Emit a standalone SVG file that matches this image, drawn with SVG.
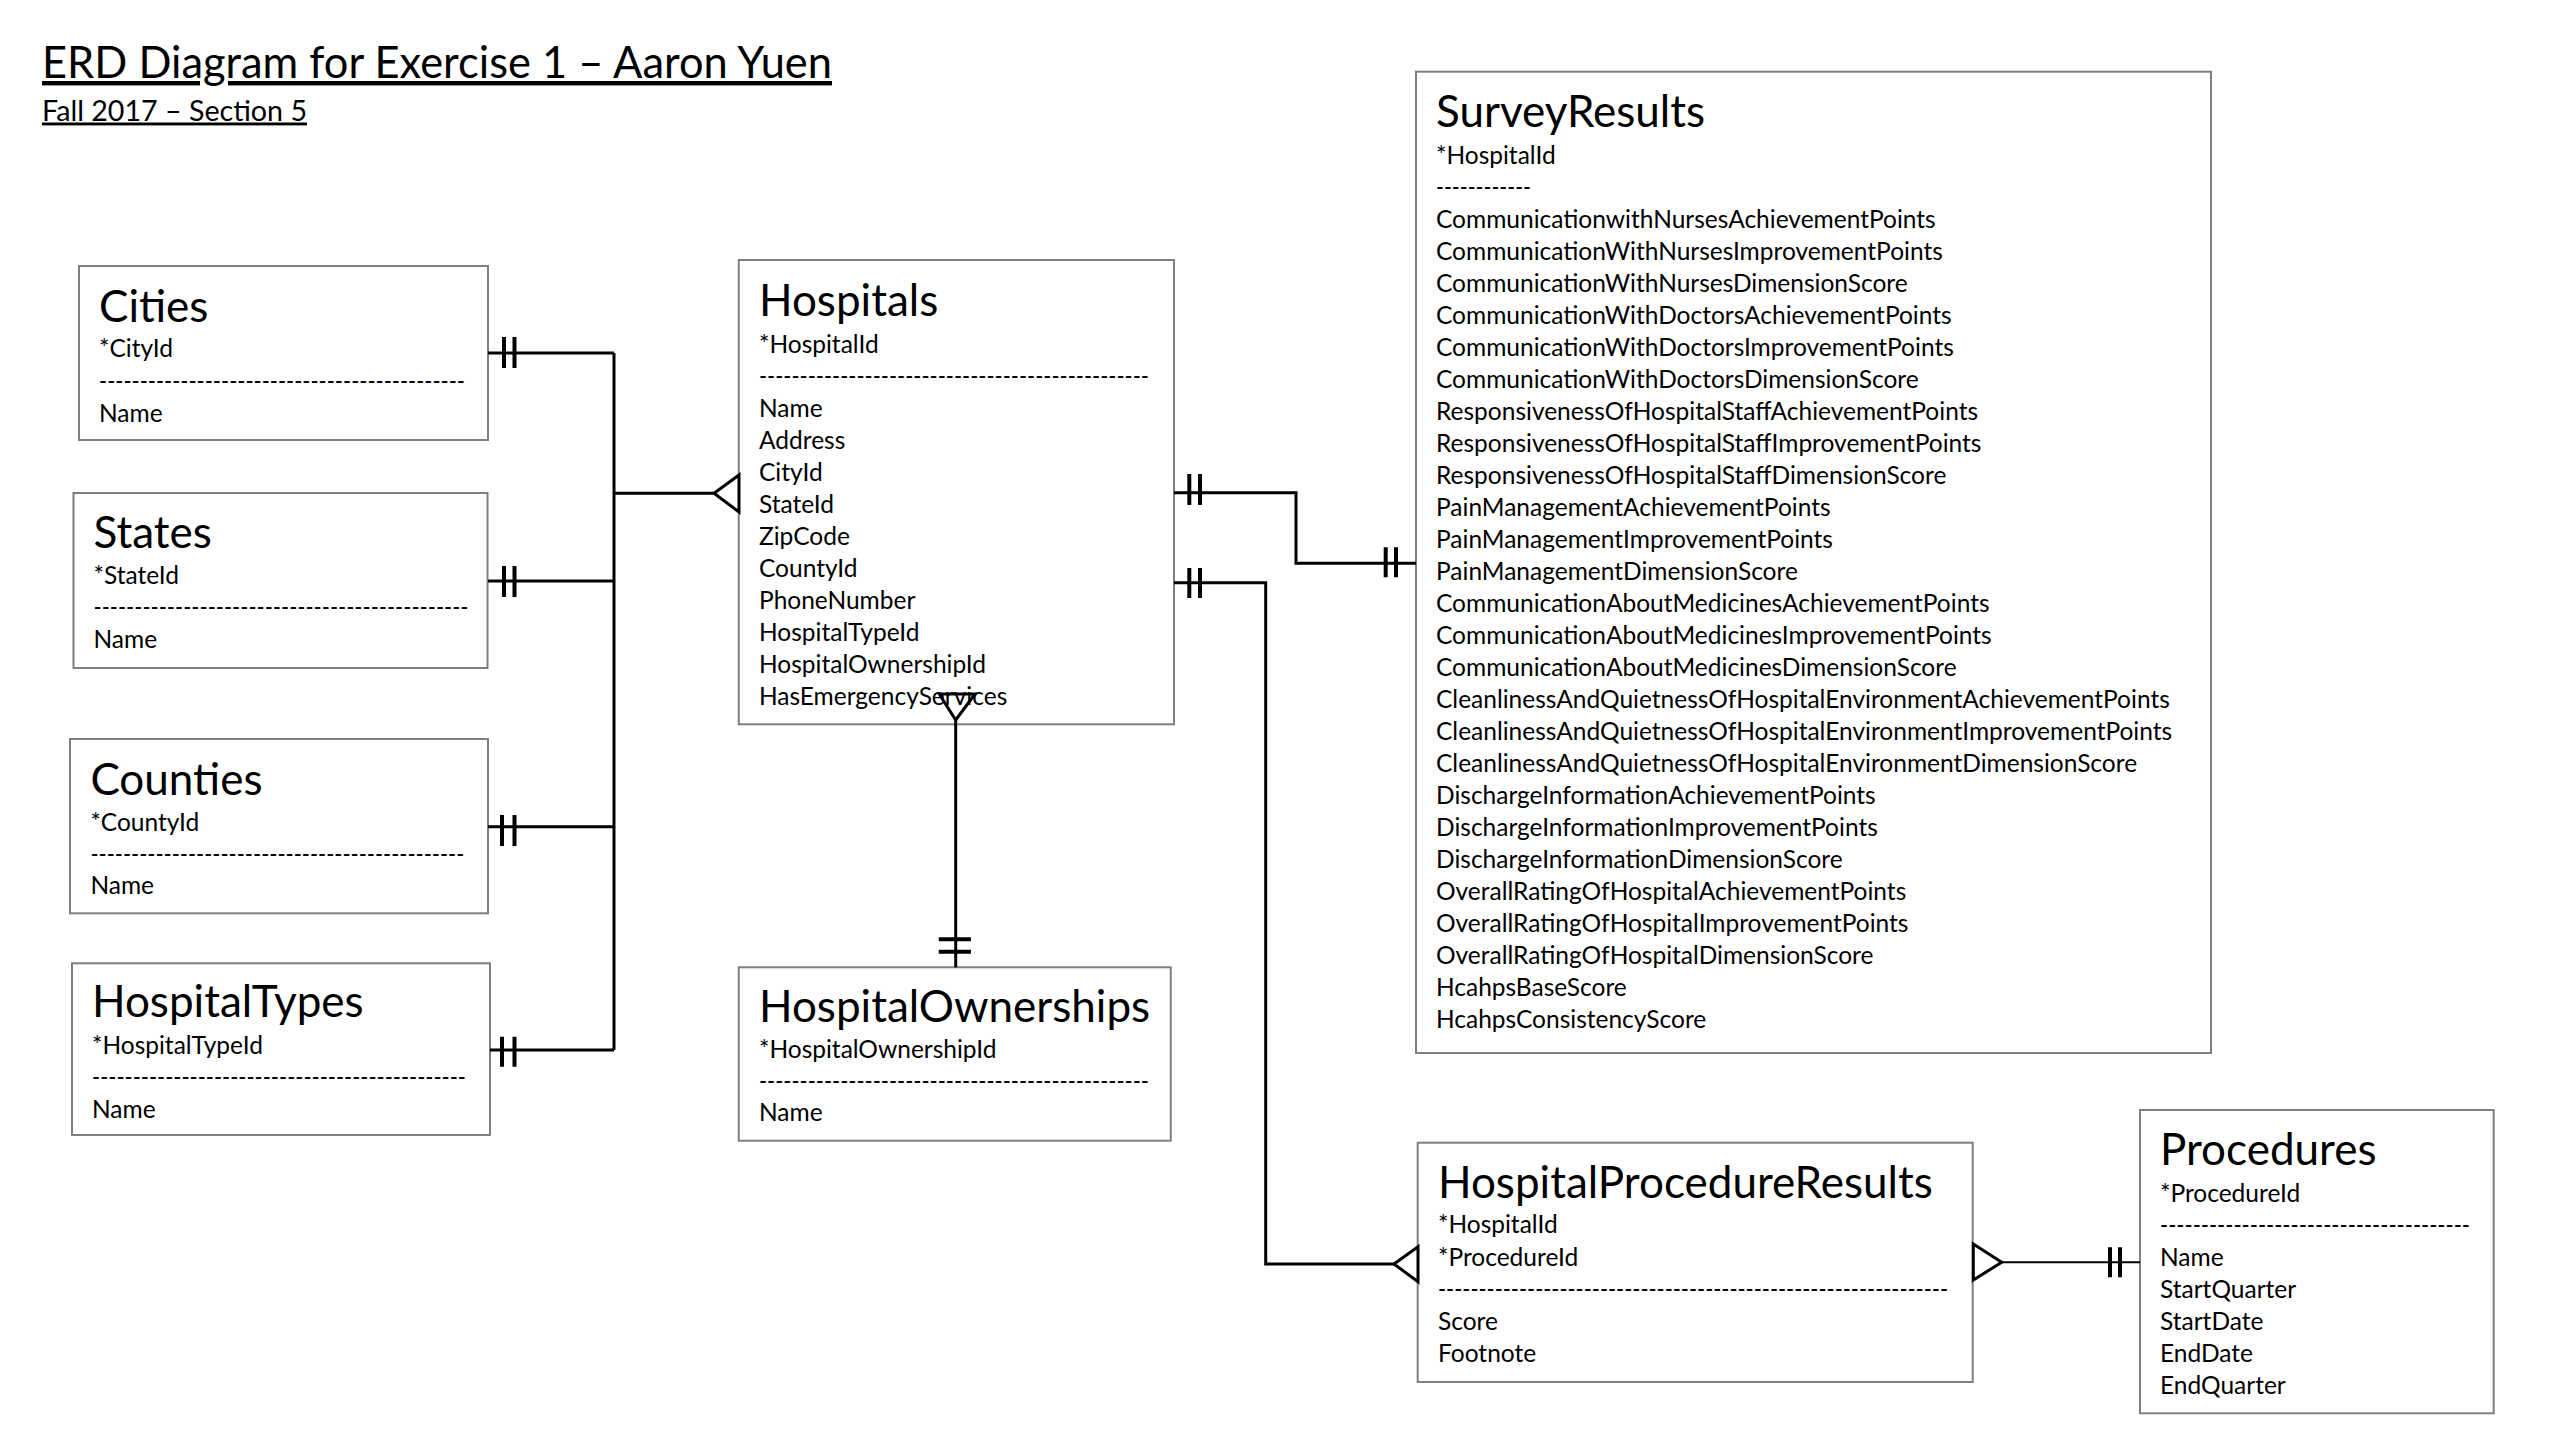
<svg xmlns="http://www.w3.org/2000/svg" width="2557" height="1437" viewBox="0 0 2557 1437">
<style>
.bg{fill:#ffffff}
.box{fill:#ffffff;stroke:#7f7f7f;stroke-width:2}
text{font-family:Lato,"Open Sans","Liberation Sans",sans-serif;fill:#000000}
.h{font-size:44px}
.b{font-size:24.5px}
.conn{stroke:#000000;stroke-width:3;fill:none}
.thin{stroke:#000000;stroke-width:2;fill:none}
.bar{stroke:#000000;stroke-width:4;fill:none}
.crow{stroke:#000000;stroke-width:3;fill:#ffffff;stroke-linejoin:miter}
.crowo{stroke:#000000;stroke-width:3;fill:none}
</style>
<rect class="bg" x="0" y="0" width="2557" height="1437"/>

<g id="heading">
<text x="42" y="78" font-size="44" text-decoration="underline" textLength="790" lengthAdjust="spacingAndGlyphs">ERD Diagram for Exercise 1 – Aaron Yuen</text>
<text x="42" y="120.5" font-size="29" text-decoration="underline" textLength="265" lengthAdjust="spacingAndGlyphs">Fall 2017 – Section 5</text>
</g>

<g id="cities">
<rect class="box" x="79" y="266" width="409" height="174"/>
<text class="h" x="99" y="322.2">Cities</text>
<text class="b" x="99" y="357.3">*CityId</text>
<text class="b" x="99" y="389.5" textLength="366" lengthAdjust="spacingAndGlyphs">---------------------------------------------</text>
<text class="b" x="99" y="421.7">Name</text>
</g>

<g id="states">
<rect class="box" x="73.5" y="493" width="414" height="175"/>
<text class="h" x="93.5" y="548.2">States</text>
<text class="b" x="93.5" y="584.3">*StateId</text>
<text class="b" x="93.5" y="616.3" textLength="375" lengthAdjust="spacingAndGlyphs">----------------------------------------------</text>
<text class="b" x="93.5" y="648.3">Name</text>
</g>

<g id="counties">
<rect class="box" x="70" y="739" width="418" height="174.3"/>
<text class="h" x="90.4" y="794.8">Counties</text>
<text class="b" x="90.4" y="830.7">*CountyId</text>
<text class="b" x="90.4" y="862.5" textLength="374" lengthAdjust="spacingAndGlyphs">----------------------------------------------</text>
<text class="b" x="90.4" y="894.3">Name</text>
</g>

<g id="hospitaltypes">
<rect class="box" x="72" y="963.3" width="418" height="171.7"/>
<text class="h" x="92" y="1016.5">HospitalTypes</text>
<text class="b" x="92" y="1054">*HospitalTypeId</text>
<text class="b" x="92" y="1086" textLength="374" lengthAdjust="spacingAndGlyphs">----------------------------------------------</text>
<text class="b" x="92" y="1118.3">Name</text>
</g>

<g id="hospitals">
<rect class="box" x="738.75" y="260" width="435.25" height="464.3"/>
<text class="h" x="759" y="315.5">Hospitals</text>
<text class="b" x="759" y="353.3">*HospitalId</text>
<text class="b" x="759" y="385" textLength="390" lengthAdjust="spacingAndGlyphs">------------------------------------------------</text>
<text class="b" x="759" y="417">Name</text>
<text class="b" x="759" y="449">Address</text>
<text class="b" x="759" y="481">CityId</text>
<text class="b" x="759" y="513">StateId</text>
<text class="b" x="759" y="545">ZipCode</text>
<text class="b" x="759" y="577">CountyId</text>
<text class="b" x="759" y="609">PhoneNumber</text>
<text class="b" x="759" y="641">HospitalTypeId</text>
<text class="b" x="759" y="673">HospitalOwnershipId</text>
<text class="b" x="759" y="705">HasEmergencyServices</text>
</g>

<g id="hospitalownerships">
<rect class="box" x="738.75" y="967.3" width="432" height="173.4"/>
<text class="h" x="759" y="1021.5">HospitalOwnerships</text>
<text class="b" x="759" y="1057.7">*HospitalOwnershipId</text>
<text class="b" x="759" y="1089.5" textLength="390" lengthAdjust="spacingAndGlyphs">------------------------------------------------</text>
<text class="b" x="759" y="1120.7">Name</text>
</g>

<g id="surveyresults">
<rect class="box" x="1416" y="71.7" width="795" height="981.3"/>
<text class="h" x="1436" y="126.5">SurveyResults</text>
<text class="b" x="1436" y="164">*HospitalId</text>
<text class="b" x="1436" y="196" textLength="95" lengthAdjust="spacingAndGlyphs">------------</text>
<text class="b" x="1436" y="228.3">CommunicationwithNursesAchievementPoints</text>
<text class="b" x="1436" y="260.3">CommunicationWithNursesImprovementPoints</text>
<text class="b" x="1436" y="292.3">CommunicationWithNursesDimensionScore</text>
<text class="b" x="1436" y="324.3">CommunicationWithDoctorsAchievementPoints</text>
<text class="b" x="1436" y="356.3">CommunicationWithDoctorsImprovementPoints</text>
<text class="b" x="1436" y="388.3">CommunicationWithDoctorsDimensionScore</text>
<text class="b" x="1436" y="420.3">ResponsivenessOfHospitalStaffAchievementPoints</text>
<text class="b" x="1436" y="452.3">ResponsivenessOfHospitalStaffImprovementPoints</text>
<text class="b" x="1436" y="484.3">ResponsivenessOfHospitalStaffDimensionScore</text>
<text class="b" x="1436" y="516.3">PainManagementAchievementPoints</text>
<text class="b" x="1436" y="548.3">PainManagementImprovementPoints</text>
<text class="b" x="1436" y="580.3">PainManagementDimensionScore</text>
<text class="b" x="1436" y="612.3">CommunicationAboutMedicinesAchievementPoints</text>
<text class="b" x="1436" y="644.3">CommunicationAboutMedicinesImprovementPoints</text>
<text class="b" x="1436" y="676.3">CommunicationAboutMedicinesDimensionScore</text>
<text class="b" x="1436" y="708.3">CleanlinessAndQuietnessOfHospitalEnvironmentAchievementPoints</text>
<text class="b" x="1436" y="740.3">CleanlinessAndQuietnessOfHospitalEnvironmentImprovementPoints</text>
<text class="b" x="1436" y="772.3">CleanlinessAndQuietnessOfHospitalEnvironmentDimensionScore</text>
<text class="b" x="1436" y="804.3">DischargeInformationAchievementPoints</text>
<text class="b" x="1436" y="836.3">DischargeInformationImprovementPoints</text>
<text class="b" x="1436" y="868.3">DischargeInformationDimensionScore</text>
<text class="b" x="1436" y="900.3">OverallRatingOfHospitalAchievementPoints</text>
<text class="b" x="1436" y="932.3">OverallRatingOfHospitalImprovementPoints</text>
<text class="b" x="1436" y="964.3">OverallRatingOfHospitalDimensionScore</text>
<text class="b" x="1436" y="996.3">HcahpsBaseScore</text>
<text class="b" x="1436" y="1028.3">HcahpsConsistencyScore</text>
</g>

<g id="hospitalprocedureresults">
<rect class="box" x="1417.7" y="1142.7" width="555" height="239.3"/>
<text class="h" x="1438" y="1198.2">HospitalProcedureResults</text>
<text class="b" x="1438" y="1233.3">*HospitalId</text>
<text class="b" x="1438" y="1265.7">*ProcedureId</text>
<text class="b" x="1438" y="1297.7" textLength="510" lengthAdjust="spacingAndGlyphs">---------------------------------------------------------------</text>
<text class="b" x="1438" y="1330">Score</text>
<text class="b" x="1438" y="1361.7">Footnote</text>
</g>

<g id="procedures">
<rect class="box" x="2140" y="1110" width="353.7" height="303.3"/>
<text class="h" x="2160" y="1164.8">Procedures</text>
<text class="b" x="2160" y="1201.7">*ProcedureId</text>
<text class="b" x="2160" y="1233.7" textLength="310" lengthAdjust="spacingAndGlyphs">--------------------------------------</text>
<text class="b" x="2160" y="1265.7">Name</text>
<text class="b" x="2160" y="1297.7">StartQuarter</text>
<text class="b" x="2160" y="1329.7">StartDate</text>
<text class="b" x="2160" y="1361.7">EndDate</text>
<text class="b" x="2160" y="1393.7">EndQuarter</text>
</g>

<g id="connectors">
<path class="conn" d="M488,353 H614 M488,581 H614 M488,826.7 H614 M490,1050 H614 M614,353 V1050 M614,493.3 H714"/>
<path class="bar" d="M504,337 V368 M514.5,337 V368 M504,566 V597 M514.5,566 V597 M502,815 V846 M514.5,815 V846 M502,1036.7 V1066.7 M514.5,1036.7 V1066.7"/>
<polygon class="crow" points="739,475 714,493.3 739,512"/>
<path class="conn" d="M1174,492.7 H1296 V563.3 H1416"/>
<path class="bar" d="M1189.3,474 V505 M1200,474 V505 M1385.7,547.3 V577.3 M1396,547.3 V577.3"/>
<path class="conn" d="M1174,582.7 H1265.7 V1264 H1394"/>
<path class="bar" d="M1189.3,568 V598 M1200,568 V598"/>
<polygon class="crow" points="1418,1246.7 1394,1264 1418,1281.7"/>
<polygon class="crowo" points="939.3,694 975,694 955.7,720"/>
<path class="conn" d="M955.7,720 V967.3"/>
<path class="bar" d="M938.75,939.3 H970.9 M938.75,951.7 H970.9"/>
<polygon class="crow" points="1973.3,1244 2001.7,1262.3 1973.3,1280"/>
<path class="thin" d="M2001.7,1262.3 H2140"/>
<path class="bar" d="M2110,1247.3 V1277.3 M2120,1247.3 V1277.3"/>
</g>
</svg>
